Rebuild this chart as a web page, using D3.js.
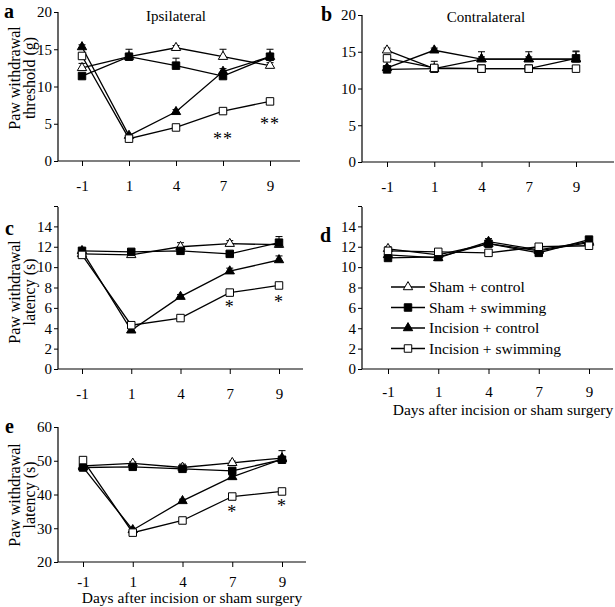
<!DOCTYPE html>
<html>
<head>
<meta charset="utf-8">
<script src="https://cdn.jsdelivr.net/npm/d3@7"></script>
<style>
body { margin: 0; background: #fff; }
svg { display: block; }
text { font-family: "Liberation Serif", "Times New Roman", serif; fill: #000; }
</style>
</head>
<body>
<div id="chart"></div>
<script>
// categories
var days = ["-1", "1", "4", "7", "9"];
var groups = ["Sham + control", "Sham + swimming", "Incision + control", "Incision + swimming"];

// a: ipsilateral threshold (g)
var aShamCtrl = [12.5, 14.0, 15.2, 14.0, 12.8];
var aShamSwim = [11.4, 14.0, 12.8, 11.4, 14.0];
var aIncCtrl  = [15.3, 3.4, 6.6, 12.0, 14.0];
var aIncSwim  = [14.1, 3.0, 4.5, 6.7, 8.0];
var aErr = [[0.6, 0.3, 0.3, 1.0, 0.4], [0.3, 1.0, 1.0, 0.3, 1.0], [0.3, 0.2, 0.3, 0.4, 0.4], [0.3, 0.2, 0.2, 0.3, 0.2]];

// b: contralateral threshold (g)
var bShamCtrl = [15.2, 12.7, 14.0, 14.0, 14.0];
var bShamSwim = [12.6, 12.7, 12.7, 12.7, 14.1];
var bIncCtrl  = [12.8, 15.2, 14.0, 14.0, 14.0];
var bIncSwim  = [14.1, 12.8, 12.7, 12.7, 12.7];
var bErr = [[0.3, 0.3, 0.3, 0.3, 0.3], [0.3, 0.3, 0.3, 0.3, 1.0], [0.3, 0.3, 1.0, 1.0, 1.0], [0.3, 0.9, 0.3, 0.3, 0.3]];

// c: ipsilateral latency (s)
var cShamCtrl = [11.3, 11.2, 12.0, 12.3, 12.2];
var cShamSwim = [11.6, 11.5, 11.6, 11.3, 12.4];
var cIncCtrl  = [11.6, 3.8, 7.1, 9.6, 10.7];
var cIncSwim  = [11.2, 4.3, 5.0, 7.5, 8.2];
var cErr = [[0.2, 0.2, 0.4, 0.3, 0.3], [0.2, 0.2, 0.2, 0.2, 0.6], [0.2, 0.2, 0.2, 0.3, 0.4], [0.2, 0.2, 0.2, 0.2, 0.2]];

// d: contralateral latency (s)
var dShamCtrl = [11.8, 11.2, 12.3, 11.6, 12.4];
var dShamSwim = [10.9, 11.0, 12.3, 11.4, 12.7];
var dIncCtrl  = [11.2, 10.9, 12.5, 11.7, 12.5];
var dIncSwim  = [11.6, 11.5, 11.4, 12.0, 12.1];
var dErr = [[0.2, 0.2, 0.3, 0.2, 0.2], [0.2, 0.2, 0.2, 0.2, 0.2], [0.2, 0.2, 0.3, 0.2, 0.2], [0.2, 0.2, 0.2, 0.2, 0.2]];

// e: latency (s)
var eShamCtrl = [48.5, 49.2, 48.0, 49.4, 50.8];
var eShamSwim = [48.0, 48.2, 47.6, 47.0, 50.3];
var eIncCtrl  = [48.1, 29.5, 38.1, 45.2, 50.5];
var eIncSwim  = [50.2, 28.7, 32.3, 39.4, 40.9];
var eErr = [[0.5, 0.5, 1.0, 0.5, 2.2], [0.5, 0.5, 0.5, 0.5, 0.5], [0.5, 0.5, 0.5, 0.5, 0.5], [0.5, 0.5, 0.5, 0.4, 0.4]];

// significance marks (value = baseline of the asterisk text)
var aStars = [{ day: "7", v: 2.15, s: "**" }, { day: "9", v: 4.2, s: "**" }];
var cStars = [{ day: "7", v: 5.5, s: "*" }, { day: "9", v: 6.0, s: "*" }];
var eStars = [{ day: "7", v: 33.0, s: "*" }, { day: "9", v: 34.8, s: "*" }];

var width = 615, height = 607;
var svg = d3.select("#chart").append("svg")
    .attr("width", width)
    .attr("height", height);

// marker shape for each group: open triangle, filled square, filled triangle, open square
var markerShape = [d3.symbolTriangle, d3.symbolSquare, d3.symbolTriangle, d3.symbolSquare];
var markerFill = ["#fff", "#000", "#000", "#fff"];
var markerSize = [38, 56, 38, 56];

function drawMarker(g, i, x, y) {
  g.append("path")
    .attr("d", d3.symbol().type(markerShape[i]).size(markerSize[i])())
    .attr("transform", "translate(" + x + "," + y + ")")
    .attr("fill", markerFill[i])
    .attr("stroke", "#000")
    .attr("stroke-width", 1);
}

function drawPanel(p) {
  var g = svg.append("g");
  var x = d3.scalePoint().domain(days).range(p.xr);
  var y = d3.scaleLinear().domain(p.yDom).range(p.yr);
  var yBase = p.yr[0];

  // axis lines
  g.append("line").attr("x1", p.x0).attr("x2", p.x0)
    .attr("y1", yBase).attr("y2", p.yTop)
    .attr("stroke", "#000").attr("stroke-width", 1.2);
  g.append("line").attr("x1", p.x0).attr("x2", p.x1)
    .attr("y1", yBase).attr("y2", yBase)
    .attr("stroke", "#000").attr("stroke-width", 1.2);

  var ya = g.append("g")
    .attr("transform", "translate(" + p.x0 + ",0)")
    .call(d3.axisLeft(y).tickValues(p.ticks).tickSize(4).tickPadding(2)
      .tickFormat(function (d) { return p.noLabel && p.noLabel.indexOf(d) >= 0 ? "" : d; }));
  ya.select(".domain").remove();
  ya.selectAll("text").style("font-size", "15px").style("font-family", "Liberation Serif");

  var xa = g.append("g")
    .attr("transform", "translate(0," + yBase + ")")
    .call(d3.axisBottom(x).tickSize(5).tickPadding(p.xPad));
  xa.select(".domain").remove();
  xa.selectAll("text").style("font-size", "15px").style("font-family", "Liberation Serif");

  // series
  p.series.forEach(function (vals, i) {
    var line = d3.line()
      .x(function (d, j) { return x(days[j]); })
      .y(function (d) { return y(d); });
    g.append("path")
      .attr("d", line(vals))
      .attr("fill", "none")
      .attr("stroke", "#000")
      .attr("stroke-width", 1.3);
  });
  p.series.forEach(function (vals, i) {
    vals.forEach(function (v, j) {
      var e = p.errs[i][j];
      var cx = x(days[j]);
      g.append("line").attr("x1", cx).attr("x2", cx)
        .attr("y1", y(v)).attr("y2", y(v + e))
        .attr("stroke", "#000").attr("stroke-width", 1);
      g.append("line").attr("x1", cx - 3.5).attr("x2", cx + 3.5)
        .attr("y1", y(v + e)).attr("y2", y(v + e))
        .attr("stroke", "#000").attr("stroke-width", 1);
    });
    vals.forEach(function (v, j) {
      drawMarker(g, i, x(days[j]), y(v));
    });
  });

  // stars
  (p.stars || []).forEach(function (s) {
    g.append("text")
      .attr("x", x(s.day))
      .attr("y", y(s.v))
      .attr("text-anchor", "middle")
      .attr("fill", "#000")
      .style("font-size", "18px")
      .style("letter-spacing", "1px")
      .text(s.s);
  });

  // panel letter
  g.append("text")
    .attr("x", p.letter[0]).attr("y", p.letter[1])
    .style("font-size", "20px").style("font-weight", "bold")
    .text(p.id);

  if (p.title) {
    g.append("text")
      .attr("x", p.title[1]).attr("y", p.title[2])
      .attr("text-anchor", "middle")
      .style("font-size", "15px")
      .text(p.title[0]);
  }

  if (p.ylab) {
    p.ylab.forEach(function (t) {
      g.append("text")
        .attr("transform", "translate(" + t[1] + "," + p.ylabY + ") rotate(-90)")
        .attr("text-anchor", "middle")
        .style("font-size", "16px")
        .text(t[0]);
    });
  }

  if (p.xlab) {
    g.append("text")
      .attr("x", p.xlab[0]).attr("y", p.xlab[1])
      .attr("text-anchor", "middle")
      .style("font-size", "15.5px")
      .text("Days after incision or sham surgery");
  }

  return { x: x, y: y };
}

drawPanel({
  id: "a", x0: 58, x1: 300, xr: [82, 270], yDom: [0, 20], yr: [161, 12], yTop: 12,
  ticks: [0, 5, 10, 15, 20], xPad: 14,
  series: [aShamCtrl, aShamSwim, aIncCtrl, aIncSwim], errs: aErr, stars: aStars,
  letter: [4, 18], title: ["Ipsilateral", 176, 21],
  ylab: [["Paw withdrawal", 20], ["threshold (g)", 35]], ylabY: 78
});

drawPanel({
  id: "b", x0: 362, x1: 614, xr: [387, 576], yDom: [0, 20], yr: [162, 15], yTop: 15,
  ticks: [0, 5, 10, 15, 20], xPad: 14,
  series: [bShamCtrl, bShamSwim, bIncCtrl, bIncSwim], errs: bErr,
  letter: [321, 21], title: ["Contralateral", 486, 22]
});

drawPanel({
  id: "c", x0: 58, x1: 303, xr: [82, 279], yDom: [0, 16], yr: [369, 206], yTop: 207,
  ticks: [0, 2, 4, 6, 8, 10, 12, 14, 16], noLabel: [16], xPad: 14,
  series: [cShamCtrl, cShamSwim, cIncCtrl, cIncSwim], errs: cErr, stars: cStars,
  letter: [5, 235],
  ylab: [["Paw withdrawal", 20], ["latency (s)", 35]], ylabY: 292
});

drawPanel({
  id: "d", x0: 362, x1: 613, xr: [388, 589], yDom: [0, 16], yr: [369, 206], yTop: 207,
  ticks: [0, 2, 4, 6, 8, 10, 12, 14, 16], noLabel: [16], xPad: 12,
  series: [dShamCtrl, dShamSwim, dIncCtrl, dIncSwim], errs: dErr,
  letter: [320, 242], xlab: [503, 415]
});

drawPanel({
  id: "e", x0: 58, x1: 306, xr: [83, 282], yDom: [20, 60], yr: [562, 427], yTop: 427,
  ticks: [20, 30, 40, 50, 60], xPad: 9,
  series: [eShamCtrl, eShamSwim, eIncCtrl, eIncSwim], errs: eErr, stars: eStars,
  letter: [5, 433],
  ylab: [["Paw withdrawal", 20], ["latency (s)", 35]], ylabY: 495,
  xlab: [192, 603]
});

// legend inside panel d
var legend = svg.append("g");
groups.forEach(function (name, i) {
  var ly = 287 + i * 20.5;
  legend.append("line").attr("x1", 391).attr("x2", 425)
    .attr("y1", ly).attr("y2", ly)
    .attr("stroke", "#000").attr("stroke-width", 1.3);
  drawMarker(legend, i, 408, ly);
  legend.append("text")
    .attr("x", 429).attr("y", ly + 5)
    .style("font-size", "15.5px")
    .text(name);
});
</script>
</body>
</html>
